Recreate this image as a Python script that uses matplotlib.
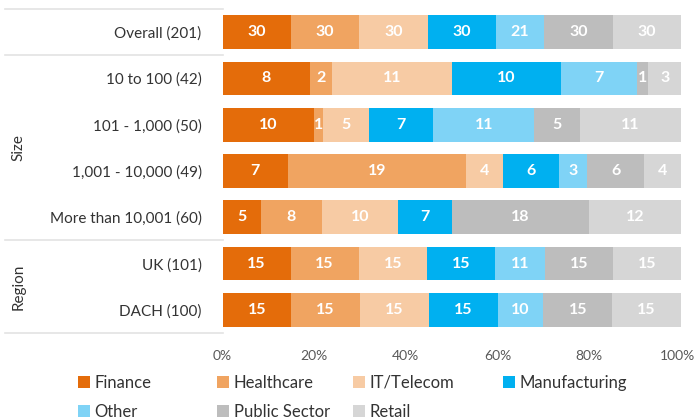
import matplotlib as mpl
import matplotlib.pyplot as plt
import matplotlib.transforms as mtransforms
import numpy as np

# respondent counts per segment, one list per sector
CATEGORIES = [
    "Overall (201)",
    "10 to 100 (42)",
    "101 - 1,000 (50)",
    "1,001 - 10,000 (49)",
    "More than 10,001 (60)",
    "UK (101)",
    "DACH (100)",
]
SECTORS = ["Finance", "Healthcare", "IT/Telecom", "Manufacturing", "Other", "Public Sector", "Retail"]
FINANCE = [30, 8, 10, 7, 5, 15, 15]
HEALTHCARE = [30, 2, 1, 19, 8, 15, 15]
IT_TELECOM = [30, 11, 5, 4, 10, 15, 15]
MANUFACTURING = [30, 10, 7, 6, 7, 15, 15]
OTHER = [21, 7, 11, 3, 0, 11, 10]
PUBLIC_SECTOR = [30, 1, 5, 6, 18, 15, 15]
RETAIL = [30, 3, 11, 4, 12, 15, 15]
X_TICKS = [0, 20, 40, 60, 80, 100]

COLORS = ["#E46C0A", "#F0A461", "#F7CBA4", "#00B0F0", "#7FD3F6", "#BDBDBD", "#D6D6D6"]
TEXT_GREY = "#595959"
LABEL_DARK = "#333333"

mpl.rcParams.update(
    {
        "font.family": ["Lato", "DejaVu Sans"],
        "font.size": 11,
        "text.color": LABEL_DARK,
    }
)

counts = np.array([FINANCE, HEALTHCARE, IT_TELECOM, MANUFACTURING, OTHER, PUBLIC_SECTOR, RETAIL], dtype=float)
shares = counts / counts.sum(axis=0) * 100.0

fig = plt.figure(figsize=(6.97, 4.2), dpi=100)
ax = fig.add_axes([222.5 / 697, 1 - 333 / 420, (681 - 222.5) / 697, 324 / 420])

y = np.arange(len(CATEGORIES))
left = np.zeros(len(CATEGORIES))
handles = []
for i, name in enumerate(SECTORS):
    w = shares[i]
    bars = ax.barh(y, w, left=left, height=0.73, color=COLORS[i], edgecolor="none", label=name)
    handles.append(bars)
    for yi, (c, wi, li) in enumerate(zip(counts[i], w, left)):
        if c > 0:
            ax.text(li + wi / 2, yi, f"{int(c)}", ha="center", va="center",
                    color="white", fontsize=11.5, fontweight="bold")
    left += w

ax.set_xlim(0, 100)
ax.set_ylim(len(CATEGORIES) - 0.5, -0.5)
ax.set_yticks(y)
ax.set_yticklabels(CATEGORIES, fontsize=11, color=LABEL_DARK)
ax.set_xticks(X_TICKS)
ax.set_xticklabels([f"{t}%" for t in X_TICKS], fontsize=10, color=TEXT_GREY)
ax.tick_params(axis="y", length=0, pad=15)
ax.tick_params(axis="x", length=0, pad=12)
for s in ax.spines.values():
    s.set_visible(False)
# nudge "100%" left a touch so it stays inside the canvas
last = ax.get_xticklabels()[-1]
last.set_transform(last.get_transform() + mtransforms.ScaledTranslation(-4 / 100, 0, fig.dpi_scale_trans))

# group separators and group labels in the label column
trans = mtransforms.blended_transform_factory(ax.transAxes, ax.transData)
for yb in [-0.5, 0.5, 4.5, 6.5]:
    ax.plot([-0.475, 0], [yb, yb], transform=trans, color="#E3E3E3", lw=1.2, clip_on=False)
ax.text(-0.445, 2.5, "Size", rotation=90, ha="center", va="center", transform=trans, fontsize=11)
ax.text(-0.445, 5.5, "Region", rotation=90, ha="center", va="center", transform=trans, fontsize=11)

# Excel-style legend: fixed-width columns, filled row by row
col_x = [78, 217, 353, 503]
for col, x0 in enumerate(col_x):
    idx = [k for k in (col, col + 4) if k < len(SECTORS)]
    fig.legend(
        [handles[k] for k in idx],
        [SECTORS[k] for k in idx],
        loc="upper left",
        bbox_to_anchor=(x0 / 697, 1 - 375 / 420),
        ncol=1,
        frameon=False,
        fontsize=12,
        handlelength=0.7,
        handleheight=0.7,
        handletextpad=0.3,
        labelspacing=0.78,
        borderaxespad=0,
        borderpad=0,
    )

fig.savefig("out.png", dpi=100)
